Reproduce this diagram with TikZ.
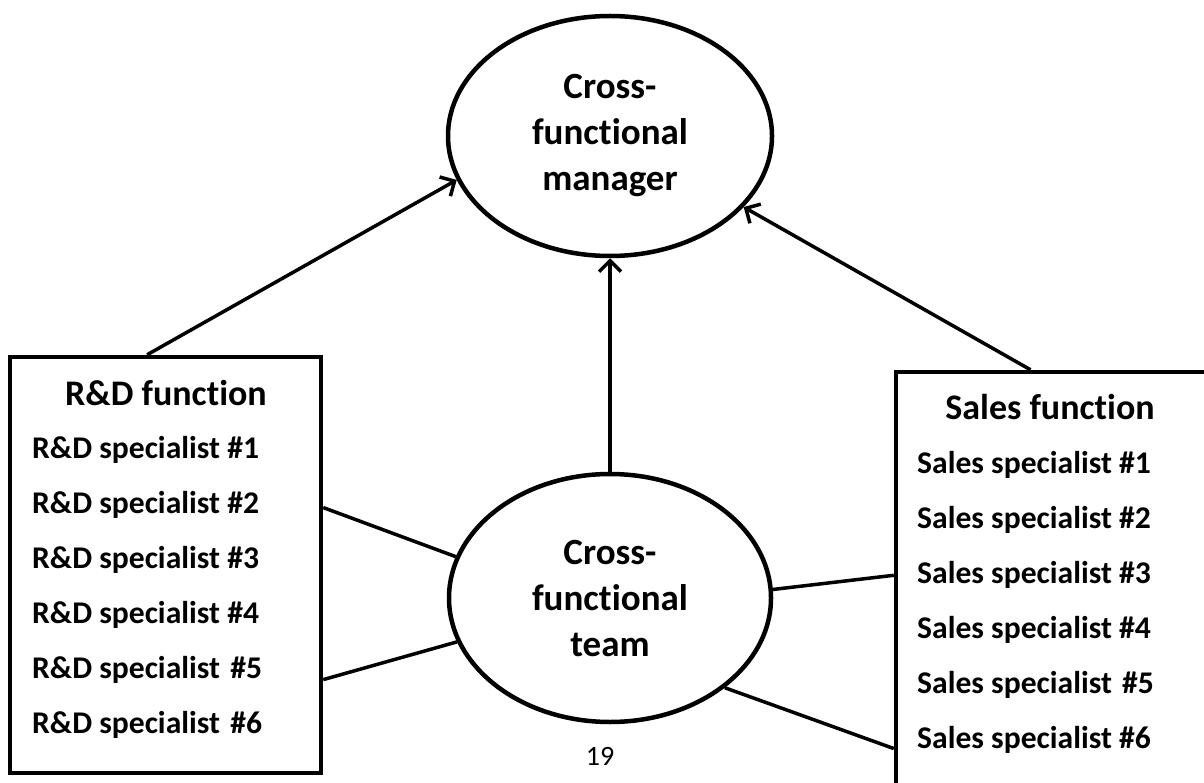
\documentclass[tikz,border=0pt]{standalone}
\usepackage{fontspec}
\setmainfont{Carlito}[Ligatures=NoCommon]
\usetikzlibrary{arrows.meta, shapes.geometric}

\begin{document}
\begin{tikzpicture}[x=1pt, y=-1pt]
\tikzstyle{unit} = [ellipse, draw, line width=4.5pt, align=center, font=\fontsize{37}{46}\selectfont\bfseries]
\tikzstyle{func} = [rectangle, draw, line width=4.5pt]
\tikzstyle{head} = [font=\fontsize{36}{40}\selectfont\bfseries]
\tikzstyle{spec} = [anchor=west, inner sep=0pt, font=\fontsize{31.6}{36}\selectfont\bfseries]
\tikzstyle{link} = [line width=3.5pt]
\tikzstyle{arrow} = [link, -{Straight Barb[length=11pt, width=22pt]}]

\useasboundingbox (0,0) rectangle (1204,783);
\clip (0,0) rectangle (1204,783);

\node[unit, minimum width=324, minimum height=240] (mgr) at (610,136) {Cross-\\functional\\manager};
\node[unit, minimum width=322, minimum height=248] (team) at (610,598) {Cross-\\functional\\team};

\node[func, minimum width=311, minimum height=416] (rd) at (165.5,565) {};
\node[head] (rdhead) at (166,393) {R\&D function};
\node[spec] (rd1) at (32,450) {R\&D specialist \#1};
\node[spec] (rd2) at (32,505) {R\&D specialist \#2};
\node[spec] (rd3) at (32,560) {R\&D specialist \#3};
\node[spec] (rd4) at (32,615) {R\&D specialist \#4};
\node[spec] (rd5) at (32,670) {R\&D specialist\kern3pt{} \#5};
\node[spec] (rd6) at (32,725) {R\&D specialist\kern3pt{} \#6};

\node[func, minimum width=330, minimum height=430] (sales) at (1061,587) {};
\node[head] (saleshead) at (1050,407) {Sales function};
\node[spec] (sales1) at (917,465) {Sales specialist \#1};
\node[spec] (sales2) at (917,520) {Sales specialist \#2};
\node[spec] (sales3) at (917,575) {Sales specialist \#3};
\node[spec] (sales4) at (917,630) {Sales specialist \#4};
\node[spec] (sales5) at (917,685) {Sales specialist\kern3pt{} \#5};
\node[spec] (sales6) at (917,740) {Sales specialist \#6};

\node[font=\fontsize{28}{34}\selectfont] (page) at (600,756) {19};

\draw[arrow] (rd.95.6) -- (mgr.196.9);
\draw[arrow] (team.north) -- (mgr.south);
\draw[arrow] (sales.98.1) -- (mgr.332.1);

\draw[link] (rd.20.2) -- (team.165.9);
\draw[link] (rd.-36.8) -- (team.196.9);
\draw[link] (team.3.5) -- (sales.176.6);
\draw[link] (team.-38.2) -- (sales.224.7);
\end{tikzpicture}
\end{document}
